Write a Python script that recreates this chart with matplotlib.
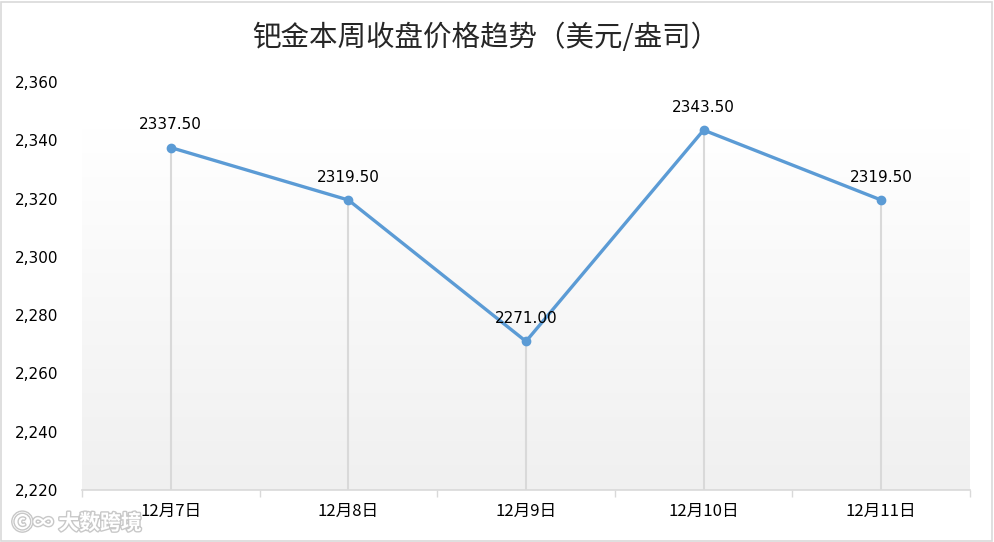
import numpy as np
import matplotlib.pyplot as plt
import matplotlib.patheffects as pe
from matplotlib.patches import Rectangle
from matplotlib.colors import LinearSegmentedColormap

plt.rcParams['font.family'] = ['Noto Sans CJK SC', 'DejaVu Sans']

# data
dates = ['12月7日', '12月8日', '12月9日', '12月10日', '12月11日']
prices = [2337.50, 2319.50, 2271.00, 2343.50, 2319.50]
y_ticks = [2220, 2240, 2260, 2280, 2300, 2320, 2340, 2360]

fig = plt.figure(figsize=(9.94, 5.42), dpi=100)
ax = fig.add_axes([82/994, 52/542, 888/994, 408/542])

x = np.arange(len(dates))
ymin, ymax = 2220, 2360

# gradient background of plot area (light gray at bottom -> white at top)
grad = np.linspace(0.0, 1.0, 256).reshape(-1, 1)
top_y = 2344
cmap = LinearSegmentedColormap.from_list('g', ['#f0f0f0', '#ffffff'])
ax.imshow(grad, extent=[-0.5, len(dates) - 0.5, ymin, top_y], aspect='auto',
          cmap=cmap, origin='lower', zorder=0)

# drop lines
ax.vlines(x, ymin, prices, color='#d9d9d9', lw=1.5, zorder=1)

ax.plot(x, prices, color='#5b9bd5', lw=2.4, marker='o', markersize=6,
        markerfacecolor='#5b9bd5', markeredgecolor='#5b9bd5', zorder=3)

for xi, p in zip(x, prices):
    ax.annotate(f'{p:.2f}', (xi, p), xytext=(0, 11), textcoords='offset points',
                ha='center', va='bottom', fontsize=11, color='#000000',
                family='DejaVu Sans', zorder=4)

ax.set_xlim(-0.5, len(dates) - 0.5)
ax.set_ylim(ymin, ymax)
ax.set_yticks(y_ticks)
ax.set_yticklabels([f'{v:,}' for v in y_ticks], fontsize=11, family='DejaVu Sans')
ax.set_xticks(x)
ax.set_xticklabels(dates, fontsize=12)
ax.set_xticks(np.arange(-0.5, len(dates)), minor=True)
ax.tick_params(axis='y', length=0, pad=17)
ax.tick_params(axis='x', which='major', length=0, pad=9)
ax.tick_params(axis='x', which='minor', length=5, color='#d9d9d9', width=1)

for s in ['top', 'right', 'left']:
    ax.spines[s].set_visible(False)
ax.spines['bottom'].set_color('#d9d9d9')
ax.spines['bottom'].set_linewidth(1.2)

fig.text(0.489, 0.93, '钯金本周收盘价格趋势（美元/盎司）', ha='center', va='center',
         fontsize=20.5, color='#262626')

# watermark
fig.text(0.012, 0.035, 'ⓒ∞ 大数跨境', ha='left', va='center', fontsize=15,
         color='white', fontweight='bold',
         path_effects=[pe.withStroke(linewidth=2, foreground='#c8c8c8')])

# outer border
fig.patches.append(Rectangle((0.001, 0.002), 0.997, 0.995, transform=fig.transFigure,
                             fill=False, edgecolor='#d9d9d9', lw=1.2))

fig.savefig('out.png', dpi=100)
